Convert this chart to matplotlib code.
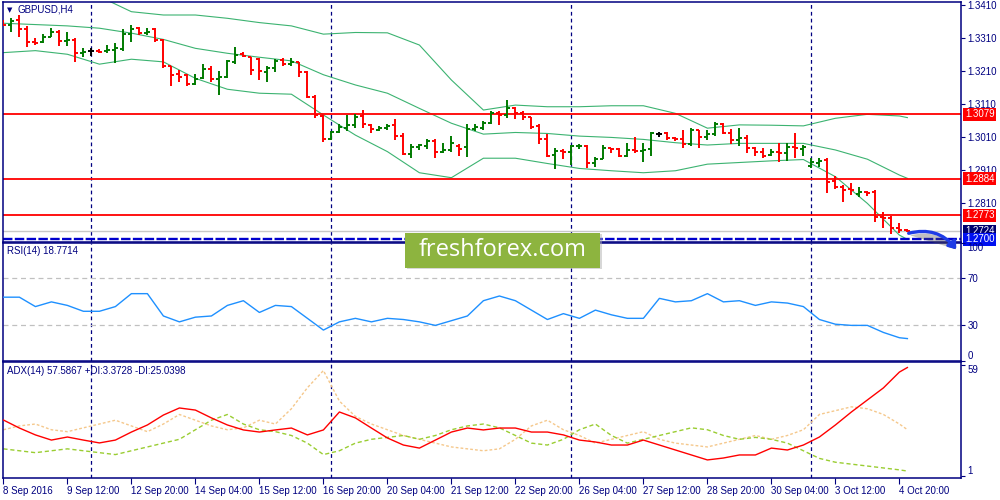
import numpy as np
import matplotlib
matplotlib.use("Agg")
import matplotlib.pyplot as plt
import matplotlib.transforms as mtransforms
import matplotlib.patheffects as pe
from matplotlib.patches import Rectangle, FancyArrowPatch

plt.rcParams["font.family"] = ["Liberation Sans", "DejaVu Sans"]

NAVY = "#000080"
BULL = "#007A00"
BEAR = "#FF0000"
BAND = "#3CB371"

# GBPUSD H4 bars, 8 Sep 2016 04:00 .. 5 Oct 2016 00:00
opens = [1.3359, 1.3351, 1.3365, 1.3337, 1.3298, 1.3299, 1.3314, 1.3327, 1.3300, 1.3304,
         1.3264, 1.3270, 1.3272, 1.3270, 1.3274, 1.3276, 1.3321, 1.3340, 1.3324, 1.3339,
         1.3304, 1.3224, 1.3201, 1.3198, 1.3171, 1.3190, 1.3215, 1.3187, 1.3193, 1.3238,
         1.3262, 1.3254, 1.3246, 1.3208, 1.3218, 1.3244, 1.3231, 1.3237, 1.3208, 1.3133,
         1.3074, 1.3003, 1.3025, 1.3039, 1.3047, 1.3074, 1.3047, 1.3032, 1.3037, 1.3047,
         1.3013, 1.2959, 1.2981, 1.2984, 1.2998, 1.2964, 1.2971, 1.2984, 1.2979, 1.3034,
         1.3039, 1.3054, 1.3082, 1.3077, 1.3097, 1.3082, 1.3070, 1.3044, 1.3004, 1.2955,
         1.2969, 1.2964, 1.2983, 1.2983, 1.2933, 1.2943, 1.2976, 1.2975, 1.2954, 1.2971,
         1.2968, 1.2973, 1.3018, 1.3021, 1.3008, 1.3004, 1.2989, 1.3030, 1.3011, 1.3018,
         1.3050, 1.3021, 1.3001, 1.3008, 1.2978, 1.2966, 1.2956, 1.2966, 1.2961, 1.2981,
         1.2974, 1.2923, 1.2931, 1.2941, 1.2877, 1.2860, 1.2852, 1.2838, 1.2843, 1.2845,
         1.2769, 1.2764, 1.2736, 1.2729]
highs = [1.3365, 1.3370, 1.3380, 1.3347, 1.3309, 1.3321, 1.3340, 1.3335, 1.3327, 1.3309,
         1.3279, 1.3281, 1.3277, 1.3289, 1.3294, 1.3337, 1.3350, 1.3345, 1.3340, 1.3341,
         1.3307, 1.3226, 1.3213, 1.3201, 1.3201, 1.3232, 1.3226, 1.3210, 1.3244, 1.3284,
         1.3269, 1.3254, 1.3249, 1.3224, 1.3246, 1.3249, 1.3249, 1.3239, 1.3211, 1.3138,
         1.3077, 1.3027, 1.3049, 1.3077, 1.3079, 1.3092, 1.3049, 1.3044, 1.3050, 1.3065,
         1.3021, 1.2988, 1.2989, 1.3003, 1.3003, 1.2993, 1.3013, 1.2988, 1.3050, 1.3049,
         1.3060, 1.3089, 1.3089, 1.3122, 1.3100, 1.3089, 1.3072, 1.3050, 1.3019, 1.2976,
         1.2973, 1.2986, 1.2988, 1.2986, 1.2951, 1.2986, 1.2978, 1.2978, 1.2991, 1.3011,
         1.2991, 1.3024, 1.3026, 1.3024, 1.3011, 1.3032, 1.3037, 1.3032, 1.3032, 1.3057,
         1.3052, 1.3034, 1.3037, 1.3016, 1.2981, 1.2976, 1.2973, 1.2993, 1.2993, 1.3021,
         1.2986, 1.2946, 1.2946, 1.2946, 1.2892, 1.2865, 1.2870, 1.2858, 1.2847, 1.2850,
         1.2782, 1.2771, 1.2749, 1.2730]
lows = [1.3347, 1.3330, 1.3312, 1.3284, 1.3289, 1.3294, 1.3312, 1.3287, 1.3287, 1.3239,
        1.3254, 1.3256, 1.3264, 1.3266, 1.3236, 1.3272, 1.3299, 1.3319, 1.3319, 1.3299,
        1.3218, 1.3165, 1.3178, 1.3166, 1.3168, 1.3186, 1.3178, 1.3138, 1.3190, 1.3232,
        1.3252, 1.3198, 1.3183, 1.3178, 1.3208, 1.3226, 1.3224, 1.3191, 1.3128, 1.3067,
        1.2996, 1.3001, 1.3021, 1.3029, 1.3039, 1.3037, 1.3021, 1.3029, 1.3032, 1.3001,
        1.2956, 1.2946, 1.2971, 1.2974, 1.2946, 1.2961, 1.2966, 1.2954, 1.2951, 1.3029,
        1.3032, 1.3050, 1.3047, 1.3067, 1.3064, 1.3062, 1.3034, 1.2988, 1.2949, 1.2912,
        1.2943, 1.2926, 1.2973, 1.2915, 1.2920, 1.2943, 1.2961, 1.2951, 1.2951, 1.2963,
        1.2936, 1.2953, 1.3009, 1.3001, 1.2999, 1.2978, 1.2983, 1.2978, 1.3001, 1.3014,
        1.3018, 1.2988, 1.2984, 1.2963, 1.2954, 1.2946, 1.2954, 1.2936, 1.2939, 1.2948,
        1.2953, 1.2915, 1.2920, 1.2842, 1.2852, 1.2814, 1.2835, 1.2828, 1.2830, 1.2754,
        1.2734, 1.2716, 1.2718, 1.2721]
closes = [1.3350, 1.3363, 1.3337, 1.3297, 1.3296, 1.3314, 1.3327, 1.3302, 1.3303, 1.3264,
          1.3269, 1.3270, 1.3268, 1.3274, 1.3279, 1.3321, 1.3338, 1.3326, 1.3327, 1.3304,
          1.3224, 1.3198, 1.3193, 1.3170, 1.3186, 1.3215, 1.3187, 1.3193, 1.3240, 1.3259,
          1.3255, 1.3213, 1.3211, 1.3218, 1.3242, 1.3231, 1.3239, 1.3206, 1.3131, 1.3077,
          1.3003, 1.3024, 1.3040, 1.3047, 1.3072, 1.3049, 1.3034, 1.3037, 1.3044, 1.3013,
          1.2959, 1.2981, 1.2985, 1.2998, 1.2966, 1.2971, 1.2991, 1.2974, 1.3034, 1.3040,
          1.3054, 1.3082, 1.3077, 1.3097, 1.3082, 1.3072, 1.3042, 1.3004, 1.2953, 1.2969,
          1.2964, 1.2983, 1.2984, 1.2933, 1.2943, 1.2976, 1.2973, 1.2954, 1.2971, 1.2968,
          1.2971, 1.3023, 1.3018, 1.3008, 1.3005, 1.2989, 1.3030, 1.3011, 1.3018, 1.3050,
          1.3021, 1.3001, 1.3008, 1.2978, 1.2966, 1.2954, 1.2966, 1.2961, 1.2981, 1.2976,
          1.2981, 1.2936, 1.2939, 1.2875, 1.2860, 1.2850, 1.2850, 1.2845, 1.2840, 1.2769,
          1.2764, 1.2736, 1.2727, 1.2724]

# Bollinger bands (20) read every 4 bars
band_bars = [0, 4, 8, 12, 16, 20, 24, 28, 32, 36, 40, 44, 48, 52, 56,
             60, 64, 68, 72, 76, 80, 84, 88, 92, 96, 100, 104, 108, 112, 113]
band_upper = [1.3496, 1.3476, 1.3456, 1.3436, 1.3390, 1.3380, 1.3380, 1.3370, 1.3357, 1.3347,
              1.3322, 1.3327, 1.3326, 1.3289, 1.3183, 1.3092, 1.3107, 1.3102, 1.3102, 1.3105,
              1.3105, 1.3082, 1.3037, 1.3047, 1.3046, 1.3044, 1.3067, 1.3079, 1.3074, 1.3069]
band_mid = [1.3355, 1.3351, 1.3347, 1.3340, 1.3325, 1.3306, 1.3279, 1.3264, 1.3252, 1.3241,
            1.3199, 1.3168, 1.3143, 1.3097, 1.3052, 1.3019, 1.3024, 1.3021, 1.3013, 1.3009,
            1.3003, 1.2993, 1.2986, 1.2991, 1.2991, 1.2991, 1.2971, 1.2943, 1.2895, 1.2885]
band_lower = [1.3266, 1.3272, 1.3261, 1.3231, 1.3246, 1.3238, 1.3188, 1.3155, 1.3143, 1.3140,
              1.3077, 1.3016, 1.2966, 1.2902, 1.2887, 1.2946, 1.2946, 1.2930, 1.2915, 1.2908,
              1.2902, 1.2908, 1.2928, 1.2933, 1.2938, 1.2942, 1.2890, 1.2809, 1.2713, 1.2700]

# indicators read every 2 bars
ind_bars = list(range(0, 113, 2)) + [113]
rsi_vals = [54, 54, 46, 50, 47, 42, 42, 46, 57, 57, 38, 33, 37, 38, 47, 51, 41, 47, 46, 36,
            26, 33, 36, 33, 36, 35, 33, 30, 34, 38, 51, 55, 51, 43, 35, 40, 36, 43, 39, 36,
            36, 53, 50, 51, 57, 50, 51, 47, 50, 49, 46, 35, 31, 30, 30, 24, 19.5, 18.77]
adx_vals = [30.1, 25.9, 22.3, 19.6, 21.2, 19.6, 18.1, 19.6, 23.8, 27.5, 32.7, 36.4, 35.3, 31.2,
            27.5, 24.9, 23.8, 24.9, 25.9, 22.3, 24.9, 34.3, 31.2, 25.9, 20.7, 17.0, 15.4, 19.6,
            23.8, 25.9, 24.9, 25.9, 25.9, 23.8, 23.8, 22.3, 19.6, 18.6, 17.0, 17.0, 19.6, 17.0,
            14.4, 11.8, 9.2, 10.2, 11.8, 11.8, 15.4, 14.4, 17.0, 21.2, 27.5, 34.3, 40.6, 46.9,
            55.2, 57.59]
plus_di = [15, 14, 13, 14, 15, 14, 13, 12, 14, 16, 18, 20, 25, 30, 33, 28, 25, 24, 22, 18,
           12, 14, 18, 20, 21, 22, 20, 22, 25, 27, 28, 26, 22, 18, 17, 20, 25, 28, 22, 18,
           20, 22, 24, 26, 25, 22, 20, 21, 20, 18, 14, 10, 8, 7, 6, 5, 4, 3.37]
minus_di = [25, 27, 28, 25, 24, 26, 28, 30, 27, 24, 28, 33, 30, 27, 25, 26, 30, 28, 36, 47,
            56, 40, 32, 28, 25, 22, 20, 18, 16, 15, 14, 15, 20, 27, 30, 25, 22, 18, 20, 22,
            24, 20, 18, 17, 16, 18, 20, 22, 20, 22, 25, 33, 35, 37, 36, 33, 28, 25.04]

level_prices = [1.3079, 1.2884, 1.2773]
bid_price = 1.2724
support_price = 1.2700
price_ticks = [1.3410, 1.3310, 1.3210, 1.3110, 1.3010, 1.2910, 1.2810]
rsi_levels = [70, 30]
date_bars = list(range(0, 113, 8))
date_labels = ["8 Sep 2016", "9 Sep 12:00", "12 Sep 20:00", "14 Sep 04:00", "15 Sep 12:00",
               "16 Sep 20:00", "20 Sep 04:00", "21 Sep 12:00", "22 Sep 20:00", "26 Sep 04:00",
               "27 Sep 12:00", "28 Sep 20:00", "30 Sep 04:00", "3 Oct 12:00", "4 Oct 20:00"]
separator_bars = [11, 41, 71, 101]

XMIN, XMAX = -0.05, 119.7
FS = 7


def style_panel(ax):
    ax.set_facecolor("white")
    for s in ax.spines.values():
        s.set_color(NAVY)
        s.set_linewidth(1.1)
    ax.yaxis.tick_right()
    ax.tick_params(axis="y", colors=NAVY, labelcolor=NAVY, length=3, width=0.8,
                   labelsize=FS, pad=1.5)
    ax.tick_params(axis="x", bottom=False, labelbottom=False)
    ax.set_xlim(XMIN, XMAX)
    for b in separator_bars:
        ax.axvline(b, color=NAVY, lw=0.9, ls=(0, (3, 2.5)), zorder=1)


def price_box(ax, price, text, color, z):
    tr = mtransforms.blended_transform_factory(ax.transAxes, ax.transData)
    ax.text(1.004, price, text, transform=tr, ha="left", va="center", color="white",
            fontsize=FS, zorder=z, clip_on=False,
            bbox=dict(boxstyle="square,pad=0.18", fc=color, ec="none"))


fig = plt.figure(figsize=(10, 5), dpi=100)
fig.patch.set_facecolor("white")

ax_main = fig.add_axes([0.003, 0.516, 0.958, 0.480])
ax_rsi = fig.add_axes([0.003, 0.278, 0.958, 0.236])
ax_adx = fig.add_axes([0.003, 0.044, 0.958, 0.232])
for ax in (ax_main, ax_rsi, ax_adx):
    style_panel(ax)

# --- price panel
x = np.arange(len(opens))
o = np.array(opens)
c = np.array(closes)
cols = np.where(c > o, BULL, np.where(c < o, BEAR, "black"))
tick = 0.38
ax_main.vlines(x, lows, highs, colors=cols, lw=1.4, zorder=3)
ax_main.hlines(o, x - tick, x, colors=cols, lw=1.4, zorder=3)
ax_main.hlines(c, x, x + tick, colors=cols, lw=1.4, zorder=3)

for series in (band_upper, band_mid, band_lower):
    ax_main.plot(band_bars, series, color=BAND, lw=0.8, zorder=2)

for lv in level_prices:
    ax_main.axhline(lv, color="red", lw=1.3, zorder=2)
ax_main.axhline(bid_price, color="#C8C8C8", lw=1.0, zorder=1)
ax_main.axhline(support_price, color="#0000CD", lw=1.7, ls=(0, (4, 1)), zorder=2)

ax_main.set_ylim(1.26921, 1.34194)
ax_main.set_yticks(price_ticks)
ax_main.set_yticklabels([f"{p:.4f}" for p in price_ticks])

for lv in level_prices:
    price_box(ax_main, lv, f"{lv:.4f}", "red", 5)
price_box(ax_main, bid_price, f"{bid_price:.4f}", "#000070", 5)
price_box(ax_main, support_price, f"{support_price:.4f}", "#0010F0", 6)

fig.text(0.007, 1 - 10 / 500, "\u25BC", fontsize=5, color=NAVY, va="center",
         family="DejaVu Sans")
fig.text(0.018, 1 - 10 / 500, "GBPUSD,H4", fontsize=FS, color=NAVY, va="center")

# --- RSI panel
ax_rsi.plot(ind_bars, rsi_vals, color="#1E90FF", lw=1.0, zorder=3)
for lv in rsi_levels:
    ax_rsi.axhline(lv, color="#C0C0C0", lw=0.9, ls=(0, (4, 3)), zorder=1)
ax_rsi.set_ylim(-0.3, 100.1)
ax_rsi.set_yticks([100, 70, 30, 0])
ax_rsi.set_yticklabels(["100", "70", "30", "0"])
lbls = ax_rsi.get_yticklabels()
lbls[0].set_va("top")
lbls[3].set_va("bottom")
ax_rsi.text(0.004, 0.93, "RSI(14) 18.7714",
            transform=ax_rsi.transAxes, fontsize=FS, color=NAVY, va="center")

# --- ADX panel
ax_adx.plot(ind_bars, minus_di, color="#F5C88C", lw=1.0, ls=(0, (2, 1.5)), zorder=2)
ax_adx.plot(ind_bars, plus_di, color="#9ACD32", lw=1.0, ls=(0, (3, 2)), zorder=2)
ax_adx.plot(ind_bars, adx_vals, color="red", lw=1.0, zorder=3)
ax_adx.set_ylim(-0.26, 60.47)
ax_adx.set_yticks([59, 1])
ax_adx.set_yticklabels(["59", "1"])
albl = ax_adx.get_yticklabels()
albl[0].set_va("top")
albl[1].set_va("bottom")
ax_adx.text(0.004, 0.92, "ADX(14) 57.5867 +DI:3.3728 -DI:25.0398",
            transform=ax_adx.transAxes, fontsize=FS, color=NAVY, va="center")

ax_adx.set_xticks(date_bars)
ax_adx.set_xticklabels(date_labels, ha="left")
ax_adx.tick_params(axis="x", bottom=True, labelbottom=True, colors=NAVY, labelcolor=NAVY,
                   length=4, width=0.8, labelsize=FS, pad=1.5)

# --- watermark and hand-drawn arrow
fig.patches.append(Rectangle((0.407, 0.462), 0.195, 0.07, transform=fig.transFigure,
                             fc="#B0B0B0", ec="none", alpha=0.5, zorder=9))
fig.patches.append(Rectangle((0.405, 0.465), 0.195, 0.07, transform=fig.transFigure,
                             fc="#8DB43F", ec="none", zorder=10))
fig.text(0.5025, 0.499, "freshforex.com", fontsize=17, color="white", ha="center",
         va="center", family=["Open Sans", "DejaVu Sans"], zorder=11)

arrow = FancyArrowPatch((0.906, 0.532), (0.958, 0.497), transform=fig.transFigure,
                        connectionstyle="arc3,rad=-0.35",
                        arrowstyle="-|>,head_length=4,head_width=3",
                        color="#1E3CE6", lw=2.4, zorder=12,
                        path_effects=[pe.withSimplePatchShadow(offset=(1, -1.5), alpha=0.35)])
fig.patches.append(arrow)

fig.savefig("out.png", dpi=100, facecolor="white")
plt.close(fig)
